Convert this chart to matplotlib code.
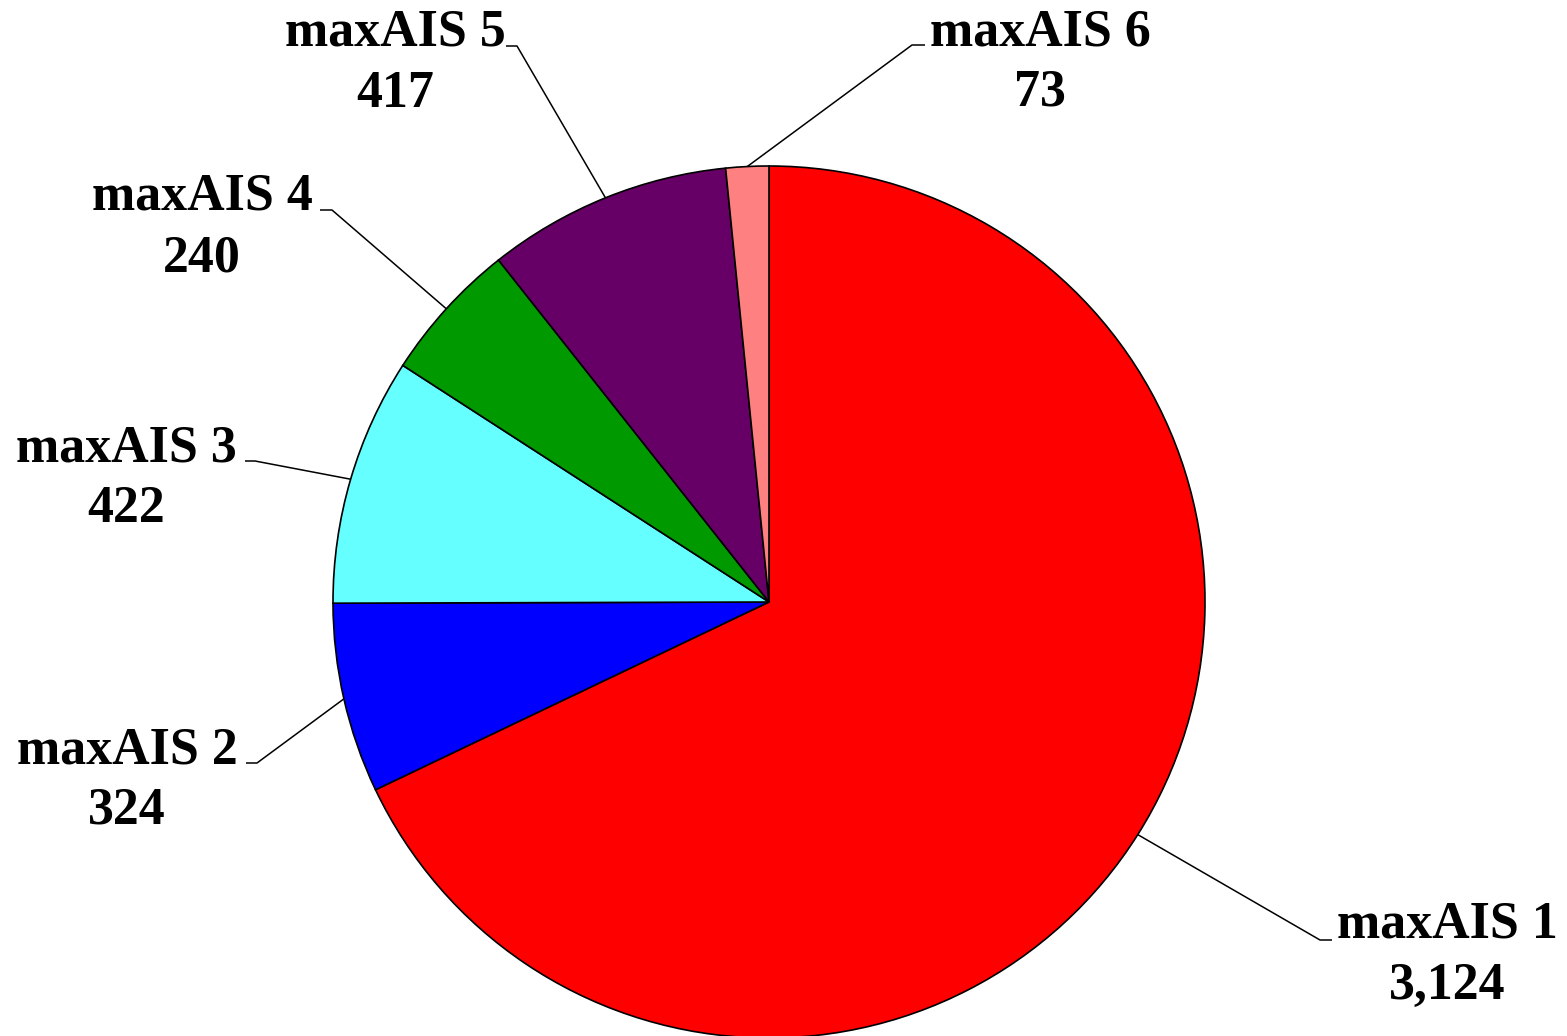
import matplotlib
matplotlib.use("Agg")
import matplotlib.pyplot as plt
import numpy as np

# ---- data ----
categories = ["maxAIS 1", "maxAIS 2", "maxAIS 3", "maxAIS 4", "maxAIS 5", "maxAIS 6"]
values = [3124, 324, 422, 240, 417, 73]
colors = ["#FF0000", "#0000FF", "#66FFFF", "#009900", "#660066", "#FF8080"]

# ---- layout (pixel coordinates, y measured from top) ----
W, H = 1567, 1036
center_px = (769, 602)
radius_px = 436
# label centre x, first-line baseline y
label_pos = [(1447, 938), (127, 763), (126, 461), (202, 210), (395, 46), (1040, 45)]
# leader elbow and end points
elbows = [(1320, 940), (257, 763), (255, 461), (332, 210), (517, 46), (912, 45)]
ends = [(1332, 940), (246, 763), (245, 461), (320, 210), (506, 46), (925, 45)]
line_gap = 61

fig = plt.figure(figsize=(W / 100, H / 100), dpi=100)
ax = fig.add_axes([0, 0, 1, 1])

cx, cy = center_px[0], H - center_px[1]
wedges, _ = ax.pie(values, colors=colors, startangle=90, counterclock=False,
                   radius=radius_px, center=(cx, cy),
                   wedgeprops=dict(edgecolor="black", linewidth=1.2))
ax.set_xlim(0, W)
ax.set_ylim(0, H)
ax.set_aspect("equal", adjustable="box")
ax.axis("off")

font = dict(family="Liberation Serif", fontweight="bold", fontsize=37.4, color="black")

for w, cat, val, lp, el, en in zip(wedges, categories, values, label_pos, elbows, ends):
    mid = np.deg2rad((w.theta1 + w.theta2) / 2)
    sx = cx + radius_px * np.cos(mid)
    sy = cy + radius_px * np.sin(mid)
    xs = [sx, el[0], en[0]]
    ys = [sy, H - el[1], H - en[1]]
    ax.plot(xs, ys, color="black", linewidth=1.1, solid_capstyle="butt", zorder=3)
    ax.text(lp[0], H - lp[1], cat, ha="center", va="baseline", **font)
    ax.text(lp[0], H - lp[1] - line_gap, f"{val:,}", ha="center", va="baseline", **font)

fig.savefig("out.png", dpi=100, facecolor="white")
